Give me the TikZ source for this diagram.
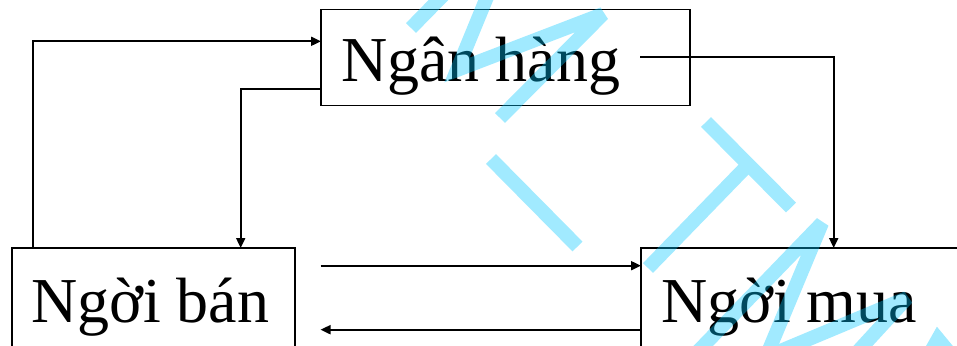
\documentclass[tikz,border=0pt]{standalone}
\usepackage{fontspec}
\setmainfont{Liberation Serif}
\usetikzlibrary{arrows.meta}
\definecolor{wm}{RGB}{0,200,255}
\tikzset{
  boxnode/.style={draw=black, line width=1.9pt, inner sep=0pt, outer sep=0pt},
  lbl/.style={inner sep=0pt, outer sep=0pt, anchor=base west, font=\fontsize{64}{70}\selectfont},
  arr/.style={line width=1.9pt, -{Triangle[length=10pt,width=9pt]}},
  wmstroke/.style={draw=wm, line width=14pt, line cap=butt, line join=miter, miter limit=3}
}
\begin{document}
\begin{tikzpicture}[x=1pt,y=-1pt]
\useasboundingbox (0,0) rectangle (957,345);
\clip (0,0) rectangle (957,345);
\fill[white] (0,0) rectangle (957,345);
% boxes
\node[boxnode, minimum width=369pt, minimum height=96pt] (bank) at (505.5,57.5) {};
\node[boxnode, minimum width=283.3pt, minimum height=172pt] (seller) at (153.4,334) {};
\node[boxnode, minimum width=600pt, minimum height=172pt] (buyer) at (941,334) {};
% labels
\node[lbl] (tbank) at (341,81) {Ngân hàng};
\node[lbl] (tseller) at (31,322) {Ngời bán};
\node[lbl] (tbuyer) at (661,322) {Ngời mua};
% free ends
\coordinate (c3) at (640,57);
\coordinate (c4) at (320.5,265.7);
\coordinate (c5) at (320.5,329.7);
% connectors
\draw[arr] (seller.north -| 33,0) |- (bank.west |- 0,41.3);
\draw[arr] (bank.west |- 0,88.7) -| (seller.north -| 240.7,0);
\draw[arr] (c3) -| (buyer.north -| 833.7,0);
\draw[arr] (c4) -- (c4 -| buyer.west);
\draw[arr] (c5 -| buyer.west) -- (c5);
% watermark
\begin{scope}[transparency group, opacity=0.37]
\draw[wmstroke] (411,28) -- (460,-22);
\draw[wmstroke] (494,-20) -- (457,70) -- (603,14) -- (500,118);
\draw[wmstroke] (491,159) -- (577.5,246.5);
\draw[wmstroke] (706,122) -- (791,207.5);
\draw[wmstroke] (747,166) -- (648,268);
\draw[wmstroke] (680,370) -- (822,223) -- (766,357) -- (907,298) -- (850,360);
\draw[wmstroke] (925,362) -- (938,339) -- (957,362);
\end{scope}
\end{tikzpicture}
\end{document}
